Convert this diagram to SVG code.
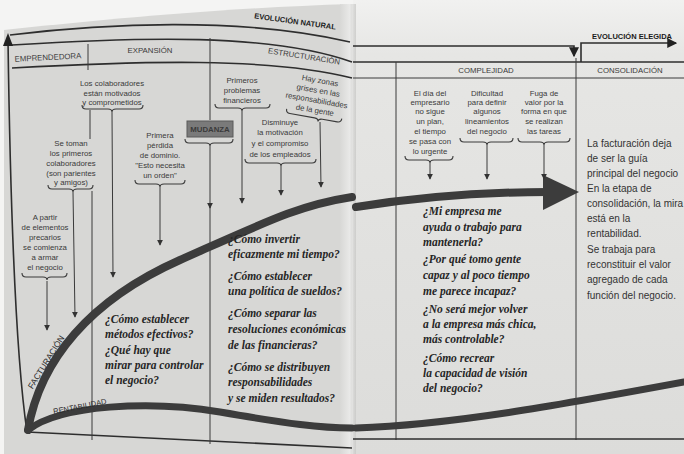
<svg xmlns="http://www.w3.org/2000/svg" width="684" height="454" viewBox="0 0 684 454">
<defs>
<linearGradient id="rp" x1="0" y1="0" x2="0" y2="1">
<stop offset="0" stop-color="#f1f1f0"/>
<stop offset="0.12" stop-color="#e6e6e4"/>
<stop offset="1" stop-color="#dcdcda"/>
</linearGradient>
<linearGradient id="gut" x1="0" y1="0" x2="1" y2="0">
<stop offset="0" stop-color="#d8d8d6"/>
<stop offset="0.6" stop-color="#ededec"/>
<stop offset="1" stop-color="#c8c8c6"/>
</linearGradient>
<marker id="ah" viewBox="0 0 8 8" refX="7" refY="4" markerWidth="6" markerHeight="6" markerUnits="userSpaceOnUse" orient="auto"><path d="M0,0 L8,4 L0,8 Z" fill="#333"/></marker>
<marker id="ahb" viewBox="0 0 8 8" refX="7" refY="4" markerWidth="10" markerHeight="10" markerUnits="userSpaceOnUse" orient="auto"><path d="M0,0 L8,4 L0,8 Z" fill="#222"/></marker>
<style>
.lbl{font-family:"Liberation Sans",Arial,sans-serif;font-size:7.8px;fill:#3a3a3a;text-anchor:middle}
.hdr{font-family:"Liberation Sans",Arial,sans-serif;font-size:7.8px;fill:#3a3a3a;text-anchor:middle}
.ttl{font-family:"Liberation Sans",Arial,sans-serif;font-size:7.5px;font-weight:bold;fill:#1a1a1a;text-anchor:middle}
.q{font-family:"Liberation Serif","Times New Roman",serif;font-style:italic;font-weight:bold;font-size:11.5px;fill:#262626}
.body{font-family:"Liberation Sans",Arial,sans-serif;font-size:10px;fill:#333}
.ax{font-family:"Liberation Sans",Arial,sans-serif;fill:#2a2a2a;text-anchor:middle}
.ln{fill:none;stroke:#3a3a3a;stroke-width:1}
.br{fill:none;stroke:#3a3a3a;stroke-width:1.1}
.frame{fill:none;stroke:#2e2e2e;stroke-width:1.6}
.thick{fill:none;stroke:#3c3c3c;stroke-linecap:round}
</style>
</defs>

<rect width="684" height="454" fill="#f4f4f3"/>
<path d="M4,30 C100,20 220,8 352,4 L352,454 L4,454 Z" fill="#d7d7d5"/>
<rect x="353" y="0" width="331" height="454" fill="url(#rp)"/>
<rect x="340" y="4" width="16" height="450" fill="url(#gut)" opacity="0.8"/>

<g id="frame">
<path class="frame" d="M10,35 C100,24 240,16 350,42" stroke-width="2.4"/>
<path class="frame" d="M12,45 C140,37 270,33 352,62"/>
<path class="frame" d="M12,68 C140,61 270,57 352,78" stroke-width="1.2"/>
<path class="frame" d="M8,40 Q12,330 27,432" stroke-width="2.6"/>
<path d="M3,46 L8,33 L13,46 Z" fill="#222"/>
<path class="frame" d="M27,432 L352,448" stroke-width="2"/>
<line class="ln" x1="88" y1="44" x2="88" y2="70"/>
<line class="ln" x1="90" y1="110" x2="90" y2="139"/>
<line class="ln" x1="92" y1="191" x2="92" y2="440"/>
<line class="ln" x1="210" y1="38" x2="210" y2="120"/>
<line class="ln" x1="210" y1="207" x2="210" y2="444"/>
<path class="frame" d="M353,46 L574,46 L574,56" marker-end="url(#ahb)" stroke-width="1.8"/>
<path class="frame" d="M581,62 L581,43 L676,43" marker-end="url(#ahb)" stroke-width="1.8"/>
<line class="frame" x1="353" y1="62" x2="684" y2="62" stroke-width="2"/>
<line class="ln" x1="353" y1="78" x2="684" y2="78"/>
<line class="ln" x1="396" y1="62" x2="396" y2="440"/>
<line class="ln" x1="576" y1="58" x2="576" y2="440"/>
<line class="frame" x1="353" y1="439" x2="684" y2="439" stroke-width="2"/>
</g>

<g id="titles">
<text class="ttl" transform="rotate(8 295 22)" x="295" y="24">EVOLUCIÓN NATURAL</text>
<text class="ttl" x="632" y="39">EVOLUCIÓN ELEGIDA</text>
<text class="hdr" transform="rotate(-3 48 58)" x="48" y="60" font-size="7.3">EMPRENDEDORA</text>
<text class="hdr" x="150" y="53">EXPANSIÓN</text>
<text class="hdr" transform="rotate(9 304 57)" x="304" y="59">ESTRUCTURACIÓN</text>
<text class="hdr" x="486" y="73">COMPLEJIDAD</text>
<text class="hdr" x="630" y="73">CONSOLIDACIÓN</text>
</g>

<g id="curves">
<path class="thick" stroke-width="8" d="M28,430 C40,360 90,300 180,260 S300,205 352,197"/>
<path class="thick" stroke-width="8" d="M356,207 Q450,192 548,192"/>
<path d="M543,175 L579,192 L543,210 Z" fill="#3c3c3c"/>
<path class="thick" stroke-width="7" d="M28,430 C60,405 150,400 220,412 S320,428 352,428"/>
<path class="thick" stroke-width="7" d="M356,428 C450,425 560,405 684,382"/>
<text class="ax" font-size="8.5" transform="rotate(-58 46 362)" x="46" y="365">FACTURACIÓN</text>
<text class="ax" font-size="7.5" transform="rotate(-11 80 407)" x="80" y="409">RENTABILIDAD</text>
</g>

<g id="n-apartir">
<text class="lbl" x="45"><tspan x="45" y="220">A partir</tspan><tspan x="45" y="230">de elementos</tspan><tspan x="45" y="240">precarios</tspan><tspan x="45" y="250">se comienza</tspan><tspan x="45" y="260">a armar</tspan><tspan x="45" y="270">el negocio</tspan></text>
<path class="br" d="M22,273 Q22,277 26,277 L43,277 Q47,277 47,280 Q47,277 51,277 L63,277 Q67,277 67,273"/>
</g>

<g id="n-setoman">
<text class="lbl" x="71"><tspan x="71" y="146">Se toman</tspan><tspan x="71" y="156">los primeros</tspan><tspan x="71" y="166">colaboradores</tspan><tspan x="71" y="176">(son parientes</tspan><tspan x="71" y="185">y amigos)</tspan></text>
<path class="br" d="M48,185 Q48,189 52,189 L69,189 Q73,189 73,192 Q73,189 77,189 L89,189 Q93,189 93,185"/>
</g>

<g id="n-colab">
<text class="lbl" x="112"><tspan x="112" y="86">Los colaboradores</tspan><tspan x="112" y="96">están motivados</tspan><tspan x="112" y="105">y comprometidos</tspan></text>
<path class="br" d="M82,105 Q82,109 86,109 L108,109 Q112,109 112,112 Q112,109 116,109 L139,109 Q143,109 143,105"/>
</g>

<g id="n-perdida">
<text class="lbl" x="160"><tspan x="160" y="138">Primera</tspan><tspan x="160" y="148">pérdida</tspan><tspan x="160" y="158">de dominio.</tspan><tspan x="160" y="168">"Esto necesita</tspan><tspan x="160" y="178">un orden"</tspan></text>
<path class="br" d="M135,180 Q135,184 139,184 L156,184 Q160,184 160,187 Q160,184 164,184 L181,184 Q185,184 185,180"/>
</g>

<g id="n-mudanza">
<rect x="187" y="121" width="46" height="16" fill="#7a7a7a" stroke="#5a5a5a" stroke-width="1"/>
<text class="lbl" x="210" y="132" font-size="6.5" font-weight="bold" fill="#262626">MUDANZA</text>
<path class="br" d="M185,139 Q185,143 189,143 L206,143 Q210,143 210,146 Q210,143 214,143 L229,143 Q233,143 233,139"/>
</g>

<g id="n-problemas">
<text class="lbl" x="242"><tspan x="242" y="83">Primeros</tspan><tspan x="242" y="93">problemas</tspan><tspan x="242" y="103">financieros</tspan></text>
<path class="br" d="M215,104 Q215,108 219,108 L238,108 Q242,108 242,111 Q242,108 246,108 L266,108 Q270,108 270,104"/>
</g>

<g id="n-zonas" transform="rotate(10 317 98)">
<text class="lbl" x="317" font-size="7"><tspan x="317" y="83">Hay zonas</tspan><tspan x="317" y="93">grises en las</tspan><tspan x="317" y="103">responsabilidades</tspan><tspan x="317" y="113">de la gente</tspan></text>
<path class="br" d="M289,114 Q289,118 293,118 L318,118 Q322,118 322,121 Q322,118 326,118 L341,118 Q345,118 345,114"/>
</g>

<g id="n-disminuye">
<text class="lbl" x="280"><tspan x="280" y="125">Disminuye</tspan><tspan x="280" y="135">la motivación</tspan><tspan x="280" y="146">y el compromiso</tspan><tspan x="280" y="157">de los empleados</tspan></text>
<path class="br" d="M245,159 Q245,163 249,163 L277,163 Q281,163 281,166 Q281,163 285,163 L312,163 Q316,163 316,159"/>
</g>

<g id="n-dia">
<text class="lbl" x="430"><tspan x="430" y="96">El día del</tspan><tspan x="430" y="105">empresario</tspan><tspan x="430" y="114">no sigue</tspan><tspan x="430" y="124">un plan,</tspan><tspan x="430" y="134">el tiempo</tspan><tspan x="430" y="144">se pasa con</tspan><tspan x="430" y="154">lo urgente</tspan></text>
<path class="br" d="M405,156 Q405,160 409,160 L426,160 Q430,160 430,163 Q430,160 434,160 L449,160 Q453,160 453,156"/>
</g>

<g id="n-dificultad">
<text class="lbl" x="487"><tspan x="487" y="96">Dificultad</tspan><tspan x="487" y="105">para definir</tspan><tspan x="487" y="114">algunos</tspan><tspan x="487" y="124">lineamientos</tspan><tspan x="487" y="134">del negocio</tspan></text>
<path class="br" d="M460,138 Q460,142 464,142 L483,142 Q487,142 487,145 Q487,142 491,142 L509,142 Q513,142 513,138"/>
</g>

<g id="n-fuga">
<text class="lbl" x="544"><tspan x="544" y="96">Fuga de</tspan><tspan x="544" y="105">valor por la</tspan><tspan x="544" y="114">forma en que</tspan><tspan x="544" y="124">se realizan</tspan><tspan x="544" y="134">las tareas</tspan></text>
<path class="br" d="M518,138 Q518,142 522,142 L540,142 Q544,142 544,145 Q544,142 548,142 L566,142 Q570,142 570,138"/>
</g>

<g id="connectors">
<line class="ln" x1="47" y1="281" x2="47" y2="330" marker-end="url(#ah)"/>
<line class="ln" x1="73" y1="192" x2="75" y2="317" marker-end="url(#ah)"/>
<line class="ln" x1="112" y1="112" x2="113" y2="277" marker-end="url(#ah)"/>
<line class="ln" x1="160" y1="187" x2="160" y2="245" marker-end="url(#ah)"/>
<line class="ln" x1="210" y1="146" x2="210" y2="208" marker-end="url(#ah)"/>
<line class="ln" x1="242" y1="111" x2="242" y2="203" marker-end="url(#ah)"/>
<line class="ln" x1="281" y1="166" x2="281" y2="195" marker-end="url(#ah)"/>
<line class="ln" x1="320" y1="122" x2="321" y2="187" marker-end="url(#ah)"/>
<line class="ln" x1="430" y1="163" x2="430" y2="179" marker-end="url(#ah)"/>
<line class="ln" x1="487" y1="145" x2="487" y2="179" marker-end="url(#ah)"/>
<line class="ln" x1="544" y1="145" x2="544" y2="179" marker-end="url(#ah)"/>
</g>

<g id="q-expansion">
<text class="q"><tspan x="105" y="323">¿Cómo establecer</tspan><tspan x="105" y="338">métodos efectivos?</tspan><tspan x="105" y="354">¿Qué hay que</tspan><tspan x="105" y="369">mirar para controlar</tspan><tspan x="105" y="384">el negocio?</tspan></text>
</g>

<g id="q-estructuracion">
<text class="q"><tspan x="228" y="243">¿Cómo invertir</tspan><tspan x="228" y="258">eficazmente mi tiempo?</tspan><tspan x="228" y="280">¿Cómo establecer</tspan><tspan x="228" y="295">una política de sueldos?</tspan><tspan x="228" y="317">¿Cómo separar las</tspan><tspan x="228" y="333">resoluciones económicas</tspan><tspan x="228" y="349">de las financieras?</tspan><tspan x="228" y="371">¿Cómo se distribuyen</tspan><tspan x="228" y="386">responsabilidades</tspan><tspan x="228" y="402">y se miden resultados?</tspan></text>
</g>

<g id="q-complejidad">
<text class="q"><tspan x="423" y="215">¿Mi empresa me</tspan><tspan x="423" y="231">ayuda o trabajo para</tspan><tspan x="423" y="246">mantenerla?</tspan><tspan x="423" y="263">¿Por qué tomo gente</tspan><tspan x="423" y="279">capaz y al poco tiempo</tspan><tspan x="423" y="295">me parece incapaz?</tspan><tspan x="423" y="313">¿No será mejor volver</tspan><tspan x="423" y="328">a la empresa más chica,</tspan><tspan x="423" y="343">más controlable?</tspan><tspan x="423" y="362">¿Cómo recrear</tspan><tspan x="423" y="377">la capacidad de visión</tspan><tspan x="423" y="392">del negocio?</tspan></text>
</g>

<g id="t-consolidacion">
<text class="body"><tspan x="587" y="147">La facturación deja</tspan><tspan x="587" y="162">de ser la guía</tspan><tspan x="587" y="177">principal del negocio</tspan><tspan x="587" y="192">En la etapa de</tspan><tspan x="587" y="207">consolidación, la mira</tspan><tspan x="587" y="222">está en la</tspan><tspan x="587" y="237">rentabilidad.</tspan><tspan x="587" y="253">Se trabaja para</tspan><tspan x="587" y="268">reconstituir el valor</tspan><tspan x="587" y="283">agregado de cada</tspan><tspan x="587" y="299">función del negocio.</tspan></text>
</g>
</svg>
